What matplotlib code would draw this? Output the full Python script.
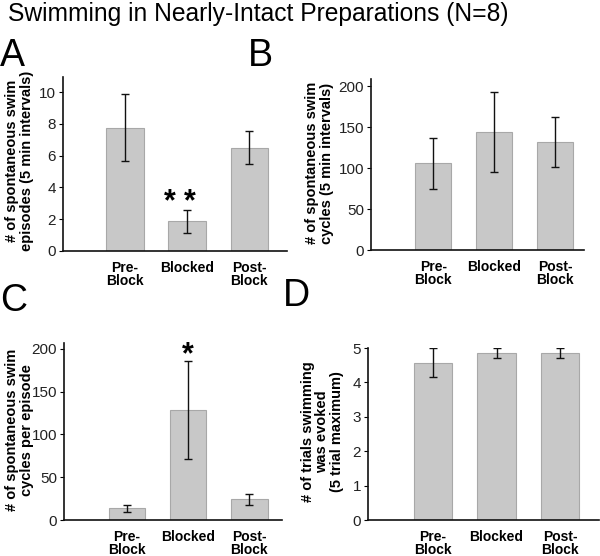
import matplotlib
matplotlib.use("Agg")
import matplotlib.pyplot as plt

plt.rcParams['font.family'] = ['Liberation Sans', 'DejaVu Sans']

categories = ["Pre-\nBlock", "Blocked", "Post-\nBlock"]

a_vals = [7.75, 1.88, 6.5]
a_err = [2.1, 0.72, 1.05]
b_vals = [106, 144, 132]
b_err = [31.5, 49, 31]
c_vals = [13.6, 128.5, 24.0]
c_err = [3.7, 57.5, 6.4]
d_vals = [4.57, 4.86, 4.86]
d_err = [0.42, 0.14, 0.14]

title = "Swimming in Nearly-Intact Preparations (N=8)"

W, H = 600, 556
fig = plt.figure(figsize=(6, 5.56), dpi=100)

def px_axes(l, r, t, b):
    return fig.add_axes([l / W, (H - b) / H, (r - l) / W, (b - t) / H])

panels = [
    dict(box=(63, 287, 77, 251), vals=a_vals, err=a_err, xlim=(-1.0, 2.61), ylim=(0, 10.95),
         yticks=[0, 2, 4, 6, 8, 10],
         ylabel="# of spontaneous swim\nepisodes (5 min intervals)", labx=34, laby=161),
    dict(box=(371, 584, 79, 250), vals=b_vals, err=b_err, xlim=(-1.02, 2.475), ylim=(0, 209),
         yticks=[0, 50, 100, 150, 200],
         ylabel="# of spontaneous swim\ncycles (5 min intervals)", labx=334, laby=163),
    dict(box=(64, 282, 343, 520), vals=c_vals, err=c_err, xlim=(-1.03, 2.536), ylim=(0, 206.7),
         yticks=[0, 50, 100, 150, 200],
         ylabel="# of spontaneous swim\ncycles per episode", labx=34, laby=430),
    dict(box=(368, 599, 348, 520), vals=d_vals, err=d_err, xlim=(-1.02, 2.61), ylim=(0, 5),
         yticks=[0, 1, 2, 3, 4, 5],
         ylabel="# of trials swimming\nwas evoked\n(5 trial maximum)", labx=344, laby=432),
]

axes = []
for p in panels:
    l, r, t, b = p['box']
    ax = px_axes(l, r, t, b)
    x = range(len(categories))
    ax.bar(x, p['vals'], width=0.6, color='#c8c8c8', edgecolor='#a8a8a8', linewidth=0.8, zorder=2)
    ax.errorbar(x, p['vals'], yerr=p['err'], fmt='none', ecolor='#111111', elinewidth=1.0,
                capsize=3, capthick=1.0, zorder=3)
    ax.set_xlim(*p['xlim'])
    ax.set_ylim(*p['ylim'])
    ax.set_yticks(p['yticks'])
    ax.set_xticks(list(x))
    ax.set_xticklabels(categories, fontweight='bold', fontsize=10, linespacing=0.95)
    ax.tick_params(axis='x', length=0, pad=7)
    ax.tick_params(axis='y', length=3, width=0.8, pad=2, labelsize=11, labelcolor='#222222')
    for s in ['top', 'right']:
        ax.spines[s].set_visible(False)
    for s in ['left', 'bottom']:
        ax.spines[s].set_linewidth(1.2)
        ax.spines[s].set_color('#111111')
    ax.set_ylabel(p['ylabel'], fontweight='bold', fontsize=10.5, linespacing=1.05)
    ax.yaxis.set_label_coords(p['labx'] / W, 1 - p['laby'] / H, transform=fig.transFigure)
    axes.append(ax)

# significance markers
axes[0].text(1 - 0.28, 3.3, "*", ha='center', va='center_baseline', fontsize=22, fontweight='bold')
axes[0].text(1 + 0.05, 3.3, "*", ha='center', va='center_baseline', fontsize=22, fontweight='bold')
axes[2].text(1, 197, "*", ha='center', va='center_baseline', fontsize=22, fontweight='bold')

fig.text(8 / W, 1 - 14 / H, title, fontsize=17.7, ha='left', va='center')
for lab, xx, yy in [("A", 0, 56), ("B", 248, 56), ("C", 0, 301), ("D", 283, 296)]:
    fig.text(xx / W, 1 - yy / H, lab, fontsize=27, ha='left', va='center')

fig.savefig("out.png", dpi=100)
